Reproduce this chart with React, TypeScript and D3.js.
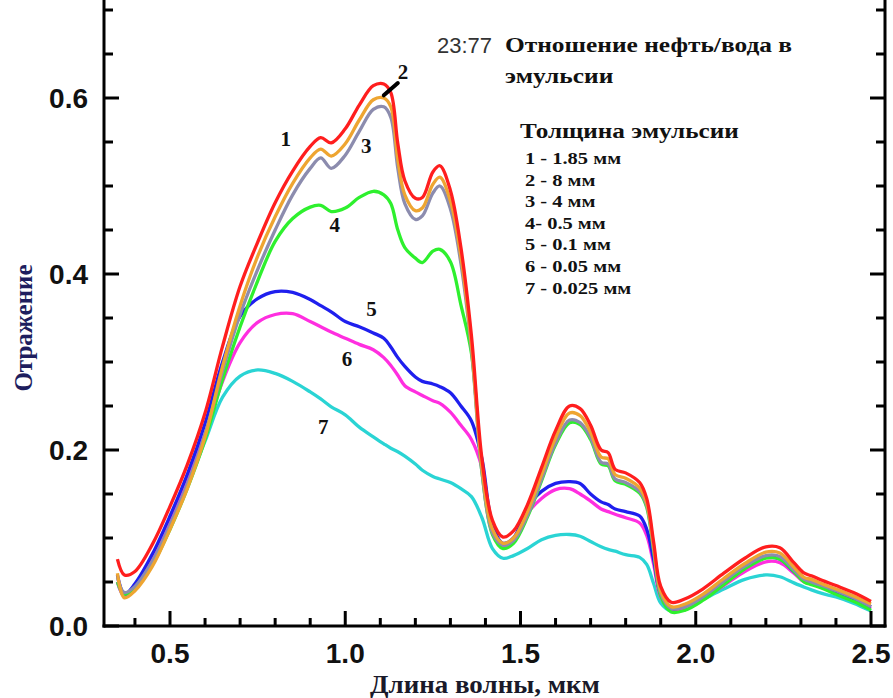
import { useMemo } from "react";
import * as d3 from "d3";

const W = 893;
const H = 698;

// wavelength grid, um
const wavelength = [0.35, 0.37, 0.40, 0.45, 0.50, 0.55, 0.60, 0.65, 0.70, 0.75, 0.80, 0.85, 0.90, 0.93, 0.96, 1.00, 1.04, 1.08, 1.11, 1.13, 1.15, 1.17, 1.20, 1.22, 1.25, 1.27, 1.30, 1.33, 1.36, 1.39, 1.42, 1.45, 1.48, 1.52, 1.56, 1.60, 1.64, 1.67, 1.70, 1.73, 1.75, 1.77, 1.80, 1.84, 1.86, 1.88, 1.90, 1.93, 1.97, 2.02, 2.08, 2.14, 2.20, 2.24, 2.28, 2.31, 2.33, 2.36, 2.40, 2.45, 2.50];

const r1 = [0.076, 0.058, 0.062, 0.093, 0.136, 0.184, 0.242, 0.318, 0.386, 0.436, 0.481, 0.517, 0.545, 0.555, 0.549, 0.565, 0.592, 0.614, 0.616, 0.606, 0.548, 0.506, 0.486, 0.487, 0.516, 0.523, 0.495, 0.43, 0.33, 0.19, 0.12, 0.101, 0.108, 0.138, 0.18, 0.222, 0.25, 0.247, 0.228, 0.2, 0.197, 0.178, 0.174, 0.163, 0.145, 0.095, 0.045, 0.027, 0.031, 0.042, 0.06, 0.077, 0.09, 0.089, 0.072, 0.06, 0.057, 0.052, 0.046, 0.038, 0.028];
const r2 = [0.06, 0.032, 0.04, 0.068, 0.11, 0.157, 0.215, 0.295, 0.364, 0.42, 0.465, 0.503, 0.532, 0.542, 0.534, 0.548, 0.575, 0.598, 0.6, 0.59, 0.53, 0.49, 0.472, 0.475, 0.502, 0.51, 0.483, 0.42, 0.32, 0.18, 0.11, 0.094, 0.1, 0.13, 0.172, 0.214, 0.242, 0.239, 0.22, 0.192, 0.19, 0.172, 0.168, 0.157, 0.14, 0.09, 0.04, 0.022, 0.025, 0.036, 0.054, 0.071, 0.084, 0.083, 0.067, 0.055, 0.053, 0.048, 0.042, 0.034, 0.025];
const r3 = [0.055, 0.038, 0.045, 0.074, 0.115, 0.162, 0.218, 0.29, 0.354, 0.405, 0.45, 0.49, 0.52, 0.532, 0.52, 0.535, 0.562, 0.587, 0.59, 0.578, 0.52, 0.48, 0.462, 0.466, 0.492, 0.5, 0.474, 0.412, 0.315, 0.175, 0.106, 0.092, 0.097, 0.126, 0.167, 0.208, 0.234, 0.231, 0.214, 0.186, 0.184, 0.167, 0.163, 0.153, 0.137, 0.087, 0.037, 0.02, 0.022, 0.033, 0.051, 0.068, 0.08, 0.079, 0.064, 0.053, 0.05, 0.046, 0.04, 0.032, 0.022];
const r4 = [0.05, 0.036, 0.043, 0.07, 0.11, 0.157, 0.212, 0.28, 0.34, 0.392, 0.437, 0.463, 0.476, 0.478, 0.471, 0.475, 0.487, 0.494, 0.49, 0.48, 0.45, 0.43, 0.418, 0.413, 0.426, 0.428, 0.414, 0.365, 0.31, 0.175, 0.104, 0.088, 0.094, 0.124, 0.165, 0.206, 0.231, 0.229, 0.212, 0.184, 0.182, 0.165, 0.161, 0.151, 0.135, 0.085, 0.034, 0.016, 0.018, 0.029, 0.047, 0.065, 0.077, 0.076, 0.062, 0.05, 0.047, 0.043, 0.036, 0.028, 0.018];
const r5 = [0.058, 0.036, 0.048, 0.082, 0.125, 0.173, 0.23, 0.3, 0.352, 0.372, 0.38, 0.379, 0.371, 0.364, 0.357, 0.346, 0.34, 0.333, 0.327, 0.317, 0.305, 0.295, 0.283, 0.278, 0.275, 0.272, 0.265, 0.25, 0.233, 0.19, 0.115, 0.094, 0.1, 0.135, 0.153, 0.162, 0.164, 0.162, 0.15, 0.141, 0.138, 0.133, 0.13, 0.125, 0.11, 0.075, 0.036, 0.02, 0.023, 0.033, 0.049, 0.066, 0.078, 0.076, 0.062, 0.052, 0.05, 0.045, 0.039, 0.031, 0.022];
const r6 = [0.05, 0.034, 0.045, 0.075, 0.117, 0.165, 0.218, 0.278, 0.322, 0.345, 0.354, 0.355, 0.346, 0.34, 0.334, 0.327, 0.32, 0.314, 0.305, 0.296, 0.285, 0.273, 0.266, 0.262, 0.256, 0.253, 0.243, 0.228, 0.212, 0.18, 0.11, 0.091, 0.097, 0.128, 0.145, 0.155, 0.156, 0.15, 0.142, 0.133, 0.13, 0.127, 0.123, 0.117, 0.103, 0.07, 0.033, 0.019, 0.021, 0.031, 0.046, 0.062, 0.073, 0.072, 0.06, 0.05, 0.048, 0.044, 0.038, 0.03, 0.02];
const r7 = [0.05, 0.034, 0.045, 0.075, 0.115, 0.16, 0.21, 0.26, 0.284, 0.291, 0.287, 0.278, 0.266, 0.258, 0.249, 0.24, 0.226, 0.215, 0.207, 0.202, 0.198, 0.193, 0.184, 0.177, 0.17, 0.167, 0.163, 0.156, 0.147, 0.123, 0.088, 0.077, 0.08, 0.088, 0.098, 0.103, 0.104, 0.102, 0.096, 0.09, 0.087, 0.085, 0.081, 0.078, 0.07, 0.048, 0.026, 0.017, 0.02, 0.03, 0.042, 0.053, 0.058, 0.056, 0.049, 0.044, 0.041, 0.037, 0.033, 0.026, 0.017];

// drawn back to front
const seriesList = [r7, r6, r5, r4, r3, r2, r1];
const seriesColors = ["#2ad4d4", "#ff2ee0", "#1f1fee", "#2ef02e", "#8c8cae", "#eea531", "#ff1e1e"];

const legendItems = ["1 - 1.85 мм", "2 - 8 мм", "3 - 4 мм", "4- 0.5 мм", "5 - 0.1 мм", "6 - 0.05 мм", "7 - 0.025 мм"];
const curveLabels = [
  { t: "1", x: 0.83, y: 0.545 },
  { t: "2", x: 1.165, y: 0.622 },
  { t: "3", x: 1.06, y: 0.537 },
  { t: "4", x: 0.97, y: 0.448 },
  { t: "5", x: 1.075, y: 0.352 },
  { t: "6", x: 1.005, y: 0.296 },
  { t: "7", x: 0.937, y: 0.218 },
];

const xMajor = [0.5, 1.0, 1.5, 2.0, 2.5];
const xMinor = d3.range(4, 25).map((d) => d / 10).filter((d) => !xMajor.some((m) => Math.abs(m - d) < 1e-6));
const yMajor = [0, 0.2, 0.4, 0.6];
const yMinor = [0.05, 0.1, 0.15, 0.25, 0.3, 0.35, 0.45, 0.5, 0.55, 0.65, 0.7];

const LEFT = 104;
const RIGHT = 885;
const BOTTOM = 626;
const SERIF = "'Liberation Serif', 'Times New Roman', serif";
const SANS = "'Liberation Sans', Arial, sans-serif";

export default function App() {
  const x = useMemo(() => d3.scaleLinear().domain([0.5, 2.5]).range([170, 871]), []);
  const y = useMemo(() => d3.scaleLinear().domain([0, 0.6]).range([BOTTOM, 98]), []);

  const paths = useMemo(() => {
    const line = d3
      .line<number>()
      .x((_, i) => x(wavelength[i]))
      .y((d) => y(d))
      .curve(d3.curveCatmullRom.alpha(0.5));
    return seriesList.map((s) => line(s) || "");
  }, [x, y]);

  return (
    <svg width={W} height={H} style={{ position: "absolute", left: 0, top: 0, background: "#fff" }}>
      {paths.map((p, i) => (
        <path key={i} d={p} fill="none" stroke={seriesColors[i]} strokeWidth={3.3} strokeLinejoin="round" />
      ))}

      {/* frame */}
      <g stroke="#000" strokeWidth={3} fill="none">
        <line x1={LEFT} x2={LEFT} y1={0} y2={BOTTOM + 1.5} />
        <line x1={RIGHT} x2={RIGHT} y1={0} y2={BOTTOM + 1.5} />
        <line x1={LEFT - 1.5} x2={RIGHT + 1.5} y1={BOTTOM} y2={BOTTOM} />
        {xMajor.map((d) => (
          <line key={"xM" + d} x1={x(d)} x2={x(d)} y1={BOTTOM} y2={BOTTOM - 15} />
        ))}
        {xMinor.map((d) => (
          <line key={"xm" + d} x1={x(d)} x2={x(d)} y1={BOTTOM} y2={BOTTOM - 8} />
        ))}
        {yMajor.map((d) => (
          <g key={"yM" + d}>
            <line x1={LEFT} x2={LEFT + 15} y1={y(d)} y2={y(d)} />
            <line x1={RIGHT} x2={RIGHT - 15} y1={y(d)} y2={y(d)} />
          </g>
        ))}
        {yMinor.map((d) => (
          <g key={"ym" + d}>
            <line x1={LEFT} x2={LEFT + 9} y1={y(d)} y2={y(d)} />
            <line x1={RIGHT} x2={RIGHT - 9} y1={y(d)} y2={y(d)} />
          </g>
        ))}
      </g>

      {/* tick labels */}
      <g fontFamily={SANS} fontWeight="bold" fontSize={28} fill="#111">
        {xMajor.map((d) => (
          <text key={"xl" + d} x={x(d)} y={663} textAnchor="middle">
            {d.toFixed(1)}
          </text>
        ))}
        {yMajor.map((d) => (
          <text key={"yl" + d} x={88} y={y(d) + 10} textAnchor="end">
            {d.toFixed(1)}
          </text>
        ))}
      </g>

      {/* axis titles */}
      <text
        x={370}
        y={693}
        fontFamily={SERIF}
        fontWeight="bold"
        fontSize={26}
        textLength={230}
        lengthAdjust="spacingAndGlyphs"
        fill="#1a1a2a"
      >
        Длина волны, мкм
      </text>
      <text
        transform="translate(32,328) rotate(-90)"
        textAnchor="middle"
        fontFamily={SERIF}
        fontWeight="bold"
        fontSize={25}
        fill="#1e1e5e"
      >
        Отражение
      </text>

      {/* header */}
      <text x={437} y={53} fontFamily={SANS} fontSize={22} fill="#333">
        23:77
      </text>
      <g fontFamily={SERIF} fontWeight="bold" fill="#111">
        <g transform="translate(505 0) scale(1.27 1)">
          <text x={0} y={52} fontSize={20}>
            Отношение нефть/вода в
          </text>
          <text x={0} y={83} fontSize={20}>
            эмульсии
          </text>
        </g>
        <g transform="translate(520 0) scale(1.2 1)">
          <text x={0} y={138} fontSize={21}>
            Толщина эмульсии
          </text>
        </g>
        <g transform="translate(525 0) scale(1.28 1)">
          {legendItems.map((t, i) => (
            <text key={t} x={0} y={164 + i * 21.6} fontSize={16}>
              {t}
            </text>
          ))}
        </g>
        {curveLabels.map((c) => (
          <text key={c.t} x={x(c.x)} y={y(c.y)} fontSize={21} textAnchor="middle">
            {c.t}
          </text>
        ))}
      </g>
      <line x1={x(1.11)} y1={y(0.603)} x2={x(1.15)} y2={y(0.617)} stroke="#000" strokeWidth={4} strokeLinecap="round" />
    </svg>
  );
}
